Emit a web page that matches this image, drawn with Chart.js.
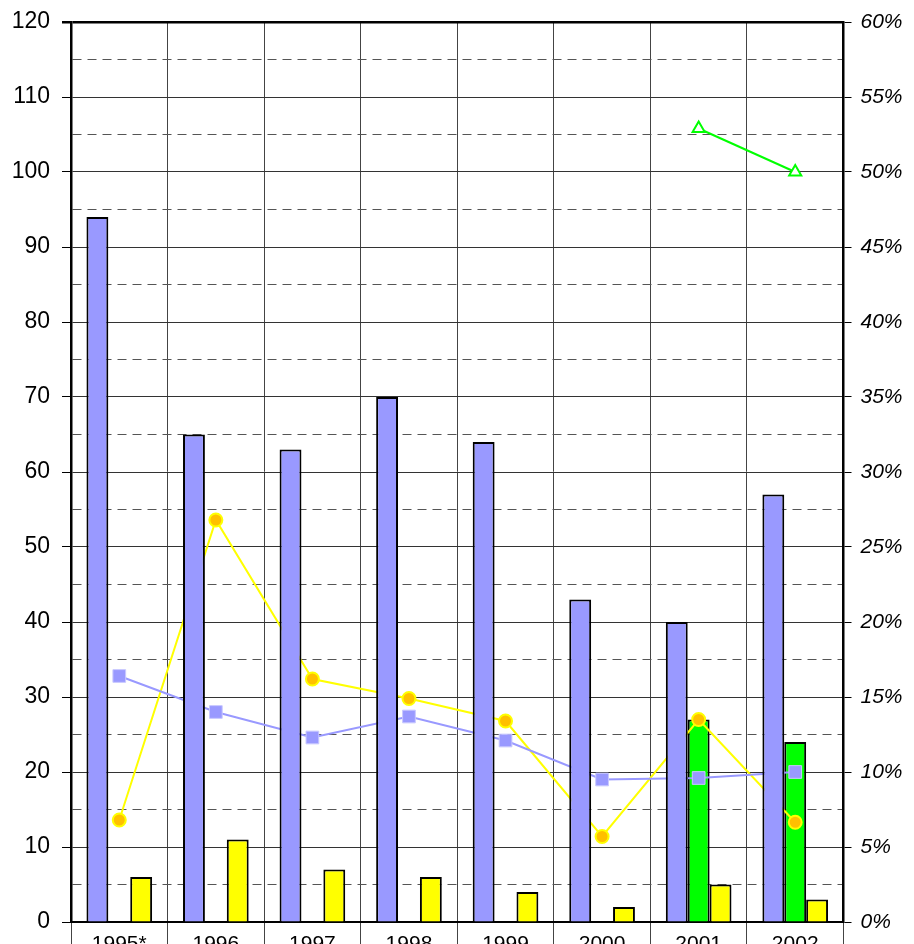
<!DOCTYPE html>
<html>
<head>
<meta charset="utf-8">
<script src="https://cdn.jsdelivr.net/npm/chart.js@4.4.1/dist/chart.umd.min.js"></script>
<style>
  html, body { margin: 0; padding: 0; background: #fff; overflow: hidden; }
  #wrap { width: 914px; height: 944px; }
</style>
</head>
<body>
<div id="wrap"><canvas id="chart" width="914" height="944"></canvas></div>
<script>
// categories
const years = ['1995*', '1996', '1997', '1998', '1999', '2000', '2001', '2002'];

// bar series (left axis)
const blueBars = [94, 65, 63, 70, 64, 43, 40, 57];
const greenBars = [null, null, null, null, null, null, 27, 24];
const yellowBars = [6, 11, 7, 6, 4, 2, 5, 3];

// line series (right axis, percent)
const blueRate = [16.4, 14.0, 12.3, 13.7, 12.1, 9.5, 9.6, 10.0];
const yellowRate = [6.8, 26.8, 16.2, 14.9, 13.4, 5.7, 13.5, 6.65];
const greenRate = [null, null, null, null, null, null, 52.9, 50.0];

// axis ticks
const leftTicks = { min: 0, max: 120, step: 5 };
const rightTicks = { min: 0, max: 60, step: 5 };

const FONT = "'Liberation Sans', Arial, sans-serif";

// fixed axis sizes, label overflow is allowed to spill outside the plot
function fixWidth(w) {
    return function (s) {
        s.width = w;
        s.paddingTop = 0;
        s.paddingBottom = 0;
    };
}

document.addEventListener("DOMContentLoaded", function () {
    const ctx = document.getElementById('chart').getContext('2d');

    new Chart(ctx, {
        data: {
            labels: years,
            datasets: [
                {
                    type: 'bar',
                    data: blueBars,
                    backgroundColor: '#9999FF',
                    borderColor: '#000',
                    borderWidth: 2,
                    yAxisID: 'y',
                    order: 0
                },
                {
                    type: 'bar',
                    data: greenBars,
                    backgroundColor: '#00FF00',
                    borderColor: '#000',
                    borderWidth: 2,
                    yAxisID: 'y',
                    order: 2
                },
                {
                    type: 'bar',
                    data: yellowBars,
                    backgroundColor: '#FFFF00',
                    borderColor: '#000',
                    borderWidth: 2,
                    yAxisID: 'y',
                    order: 3
                },
                {
                    type: 'line',
                    data: blueRate,
                    yAxisID: 'y1',
                    borderColor: '#9999FF',
                    borderWidth: 2,
                    pointStyle: 'rect',
                    pointRadius: 9,
                    pointBackgroundColor: '#9999FF',
                    pointBorderColor: '#C8C8FF',
                    pointBorderWidth: 1,
                    tension: 0,
                    order: 1
                },
                {
                    type: 'line',
                    data: yellowRate,
                    yAxisID: 'y1',
                    borderColor: '#FFFF00',
                    borderWidth: 2,
                    pointStyle: 'circle',
                    pointRadius: 6.5,
                    pointBackgroundColor: '#FFC000',
                    pointBorderColor: '#FFFF00',
                    pointBorderWidth: 2,
                    tension: 0,
                    order: 1
                },
                {
                    type: 'line',
                    data: greenRate,
                    yAxisID: 'y1',
                    borderColor: '#00FF00',
                    borderWidth: 2,
                    pointStyle: 'triangle',
                    pointRadius: 7,
                    pointBackgroundColor: '#FFFFFF',
                    pointBorderColor: '#00FF00',
                    pointBorderWidth: 2,
                    tension: 0,
                    order: 1
                }
            ]
        },
        options: {
            responsive: false,
            animation: false,
            devicePixelRatio: 1,
            categoryPercentage: 0.68,
            barPercentage: 1.0,
            layout: { padding: { top: 22, left: 0, right: 0, bottom: 0 } },
            plugins: {
                legend: { display: false },
                tooltip: { enabled: false }
            },
            scales: {
                x: {
                    grid: { offset: true, color: '#444', lineWidth: 1, tickLength: 22, tickColor: '#444' },
                    border: { color: '#000', width: 2 },
                    ticks: {
                        color: '#000',
                        padding: -12,
                        maxRotation: 0,
                        font: { family: FONT, size: 21 }
                    },
                    afterFit: function (s) {
                        s.height = 22;
                        s.paddingLeft = 0;
                        s.paddingRight = 0;
                    }
                },
                y: {
                    position: 'left',
                    min: leftTicks.min,
                    max: leftTicks.max,
                    ticks: {
                        stepSize: leftTicks.step,
                        autoSkip: false,
                        padding: 12,
                        color: '#000',
                        font: { family: FONT, size: 23 },
                        callback: v => (v % 10 === 0 ? v : '')
                    },
                    grid: {
                        color: c => (c.tick && c.tick.value === leftTicks.max ? '#000' : (c.tick && c.tick.value % 10 === 0 ? '#333' : '#555')),
                        lineWidth: c => (c.tick && c.tick.value === leftTicks.max ? 2.5 : 1),
                        tickLength: 9,
                        tickColor: c => (c.tick && c.tick.value % 10 === 0 ? '#000' : 'rgba(0,0,0,0)')
                    },
                    border: {
                        color: '#000',
                        width: 2.5,
                        dash: c => (c.tick && c.tick.value % 10 !== 0 ? [9, 6] : [])
                    },
                    afterFit: fixWidth(71)
                },
                y1: {
                    position: 'right',
                    min: rightTicks.min,
                    max: rightTicks.max,
                    ticks: {
                        stepSize: rightTicks.step,
                        autoSkip: false,
                        padding: 9,
                        color: '#000',
                        font: { family: FONT, size: 21, style: 'italic' },
                        callback: v => v + '%'
                    },
                    grid: { drawOnChartArea: false, tickLength: 8, tickColor: '#000' },
                    border: { color: '#000', width: 2.5 },
                    afterFit: fixWidth(70.5)
                }
            }
        }
    });
});
</script>
</body>
</html>
